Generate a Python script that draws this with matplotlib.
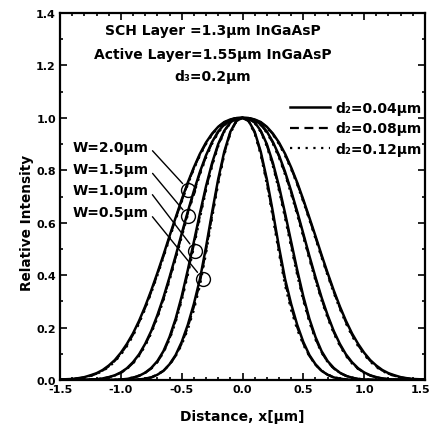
import matplotlib
matplotlib.use("Agg")
import matplotlib.pyplot as plt
import matplotlib.transforms as mtransforms
import numpy as np
from matplotlib.ticker import MultipleLocator

# ---------------- data (half profiles, symmetric about x = 0) ----------------
X_HALF = [0.00, 0.05, 0.10, 0.15, 0.20, 0.25, 0.30, 0.35, 0.40, 0.45, 0.50,
          0.55, 0.60, 0.65, 0.70, 0.75, 0.80, 0.85, 0.90, 0.95, 1.00,
          1.05, 1.10, 1.15, 1.20, 1.25, 1.30, 1.35, 1.40, 1.45, 1.50]

# W = 2.0 um
W20_D004 = [1.000, 0.999, 0.994, 0.984, 0.966, 0.940, 0.906, 0.863, 0.811, 0.753, 0.688,
            0.619, 0.549, 0.477, 0.408, 0.342, 0.281, 0.226, 0.178, 0.138, 0.104,
            0.076, 0.055, 0.038, 0.026, 0.018, 0.011, 0.007, 0.004, 0.003, 0.002]
W20_D008 = [1.000, 0.999, 0.994, 0.983, 0.965, 0.938, 0.903, 0.860, 0.808, 0.749, 0.684,
            0.615, 0.544, 0.472, 0.403, 0.337, 0.276, 0.221, 0.173, 0.133, 0.100,
            0.073, 0.052, 0.036, 0.024, 0.016, 0.010, 0.006, 0.004, 0.002, 0.001]
W20_D012 = [1.000, 0.999, 0.993, 0.982, 0.963, 0.936, 0.900, 0.856, 0.804, 0.745, 0.679,
            0.610, 0.539, 0.467, 0.398, 0.332, 0.271, 0.216, 0.168, 0.129, 0.096,
            0.070, 0.049, 0.034, 0.023, 0.015, 0.009, 0.006, 0.003, 0.002, 0.001]
# W = 1.5 um
W15_D004 = [1.000, 0.999, 0.991, 0.975, 0.948, 0.908, 0.857, 0.794, 0.721, 0.642, 0.558,
            0.473, 0.392, 0.315, 0.247, 0.187, 0.138, 0.098, 0.068, 0.045, 0.029,
            0.018, 0.011, 0.006, 0.003, 0.002, 0.001, 0.000, 0.000, 0.000, 0.000]
W15_D008 = [1.000, 0.998, 0.990, 0.974, 0.946, 0.905, 0.853, 0.789, 0.716, 0.636, 0.552,
            0.467, 0.386, 0.309, 0.242, 0.183, 0.134, 0.095, 0.065, 0.043, 0.028,
            0.017, 0.010, 0.006, 0.003, 0.002, 0.001, 0.000, 0.000, 0.000, 0.000]
W15_D012 = [1.000, 0.998, 0.989, 0.972, 0.943, 0.901, 0.848, 0.783, 0.709, 0.629, 0.545,
            0.460, 0.379, 0.303, 0.236, 0.178, 0.130, 0.092, 0.063, 0.042, 0.027,
            0.017, 0.010, 0.006, 0.003, 0.002, 0.001, 0.000, 0.000, 0.000, 0.000]
# W = 1.0 um
W10_D004 = [1.000, 0.997, 0.983, 0.951, 0.900, 0.828, 0.739, 0.636, 0.527, 0.419, 0.319,
            0.233, 0.164, 0.110, 0.072, 0.046, 0.028, 0.016, 0.009, 0.004, 0.002,
            0.001, 0.000, 0.000, 0.000, 0.000, 0.000, 0.000, 0.000, 0.000, 0.000]
W10_D008 = [1.000, 0.997, 0.982, 0.949, 0.896, 0.822, 0.731, 0.627, 0.517, 0.409, 0.310,
            0.226, 0.158, 0.106, 0.069, 0.044, 0.027, 0.016, 0.009, 0.004, 0.002,
            0.001, 0.000, 0.000, 0.000, 0.000, 0.000, 0.000, 0.000, 0.000, 0.000]
W10_D012 = [1.000, 0.996, 0.980, 0.946, 0.891, 0.815, 0.722, 0.617, 0.506, 0.399, 0.302,
            0.220, 0.154, 0.104, 0.068, 0.044, 0.028, 0.017, 0.010, 0.005, 0.002,
            0.001, 0.000, 0.000, 0.000, 0.000, 0.000, 0.000, 0.000, 0.000, 0.000]
# W = 0.5 um
W05_D004 = [1.000, 0.989, 0.947, 0.871, 0.766, 0.640, 0.507, 0.385, 0.290, 0.210, 0.145,
            0.095, 0.060, 0.035, 0.020, 0.010, 0.005, 0.002, 0.001, 0.000, 0.000,
            0.000, 0.000, 0.000, 0.000, 0.000, 0.000, 0.000, 0.000, 0.000, 0.000]
W05_D008 = [1.000, 0.988, 0.944, 0.865, 0.757, 0.629, 0.495, 0.373, 0.279, 0.201, 0.139,
            0.092, 0.058, 0.035, 0.020, 0.010, 0.005, 0.002, 0.001, 0.000, 0.000,
            0.000, 0.000, 0.000, 0.000, 0.000, 0.000, 0.000, 0.000, 0.000, 0.000]
W05_D012 = [1.000, 0.987, 0.940, 0.858, 0.747, 0.617, 0.482, 0.360, 0.266, 0.192, 0.134,
            0.090, 0.058, 0.036, 0.021, 0.011, 0.006, 0.003, 0.001, 0.000, 0.000,
            0.000, 0.000, 0.000, 0.000, 0.000, 0.000, 0.000, 0.000, 0.000, 0.000]

D2_LABELS = ["d₂=0.04μm", "d₂=0.08μm", "d₂=0.12μm"]
W_LABELS = ["W=2.0μm", "W=1.5μm", "W=1.0μm", "W=0.5μm"]
CIRCLE_X = [-0.446, -0.446, -0.391, -0.327]
CIRCLE_Y = [0.726, 0.625, 0.494, 0.386]
WLABEL_Y = [0.89, 0.805, 0.725, 0.64]

X_TICKS = [-1.5, -1.0, -0.5, 0.0, 0.5, 1.0, 1.5]
Y_TICKS = [0.0, 0.2, 0.4, 0.6, 0.8, 1.0, 1.2, 1.4]

# ---------------- figure ----------------
plt.rcParams["font.family"] = ["DejaVu Sans"]
plt.rcParams["font.weight"] = "bold"

fig = plt.figure(figsize=(4.33, 4.27), dpi=100)
ax = fig.add_axes([0.1386, 0.1077, 0.8429, 0.8595])

xh = np.array(X_HALF)
x_full = np.concatenate([-xh[::-1], xh[1:]])

def full(y):
    y = np.array(y)
    return np.concatenate([y[::-1], y[1:]])

groups = [
    (W20_D004, W20_D008, W20_D012),
    (W15_D004, W15_D008, W15_D012),
    (W10_D004, W10_D008, W10_D012),
    (W05_D004, W05_D008, W05_D012),
]
styles = [dict(ls="-", lw=1.8), dict(ls=(0, (4, 2.5)), lw=1.6), dict(ls=(0, (1, 2.5)), lw=1.6)]

handles = []
for gi, g in enumerate(groups):
    for si, ys in enumerate(g):
        ln, = ax.plot(x_full, full(ys), color="black", **styles[si])
        if gi == 0:
            handles.append(ln)

# circles + leader lines
for lab, cx, cy, ly in zip(W_LABELS, CIRCLE_X, CIRCLE_Y, WLABEL_Y):
    ax.plot([cx], [cy], marker="o", ms=10, mfc="none", mec="black", mew=1.0, ls="none")
    ax.annotate(lab, xy=(cx, cy), xytext=(-1.395, ly), fontsize=10, fontweight="bold",
                ha="left", va="center",
                arrowprops=dict(arrowstyle="-", color="black", lw=1.0,
                                relpos=(1.0, 0.5), shrinkA=1, shrinkB=6))

# header text
ax.text(-0.245, 1.334, "SCH Layer =1.3μm InGaAsP", ha="center", va="center", fontsize=10, fontweight="bold")
ax.text(-0.245, 1.244, "Active Layer=1.55μm InGaAsP", ha="center", va="center", fontsize=10, fontweight="bold")
ax.text(-0.245, 1.160, "d₃=0.2μm", ha="center", va="center", fontsize=10, fontweight="bold")

leg = ax.legend(handles, D2_LABELS, loc="upper right", bbox_to_anchor=(1.005, 0.775),
                frameon=False, fontsize=10, handlelength=2.9, handletextpad=0.35,
                labelspacing=0.45, borderaxespad=0.0)
for t in leg.get_texts():
    t.set_fontweight("bold")

ax.set_xlim(-1.5, 1.5)
ax.set_ylim(0.0, 1.4)
ax.set_xticks(X_TICKS)
ax.set_yticks(Y_TICKS)
ax.set_xticklabels([f"{v:.1f}" for v in X_TICKS])
ax.set_yticklabels([f"{v:.1f}" for v in Y_TICKS])
ax.xaxis.set_minor_locator(MultipleLocator(0.1))
ax.yaxis.set_minor_locator(MultipleLocator(0.1))
ax.tick_params(which="both", direction="in", top=True, right=True, width=1.2)
ax.tick_params(which="major", length=5, labelsize=8, pad=3)
ax.tick_params(which="minor", length=2.5)
for lbl in ax.get_xticklabels() + ax.get_yticklabels():
    lbl.set_fontweight("bold")
# nudge the last x tick label so it stays inside the canvas
last = ax.get_xticklabels()[-1]
last.set_transform(last.get_transform() + mtransforms.ScaledTranslation(-4 / 100, 0, fig.dpi_scale_trans))
for s in ax.spines.values():
    s.set_linewidth(1.6)

ax.set_xlabel("Distance, x[μm]", fontsize=10, fontweight="bold")
ax.xaxis.set_label_coords(0.5, -0.078)
ax.set_ylabel("Relative Intensity", fontsize=9.8, fontweight="bold")
ax.yaxis.set_label_coords(-0.072, 0.43)

fig.savefig("out.png", dpi=100)
